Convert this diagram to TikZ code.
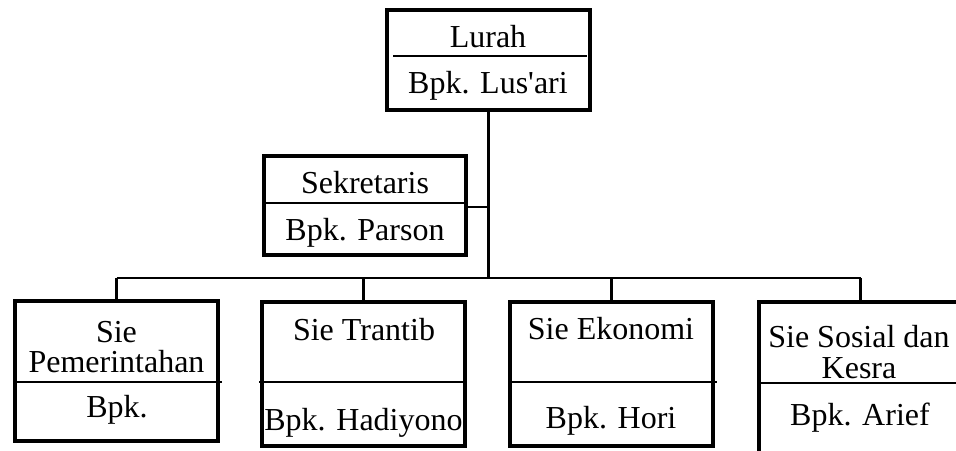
\documentclass[tikz,border=0pt]{standalone}
\usepackage{fontspec}
\setmainfont{Liberation Serif}
\begin{document}
\begin{tikzpicture}[x=1pt,y=-1pt,
  box/.style={draw, line width=4pt, inner sep=0pt, outer sep=0pt, minimum width=203pt},
  div/.style={line width=1.8pt},
  conn/.style={line width=2.5pt},
  lbl/.style={anchor=base, inner sep=0pt, font=\fontsize{32}{31}\selectfont}]
\clip (0,0) rectangle (956,450);
% boxes
\node[box, minimum height=100pt] (lurah) at (488.5,60) {};
\node[box, minimum width=202pt, minimum height=99pt] (sek) at (365,205.5) {};
\node[box, minimum height=140pt] (b1) at (116.5,371) {};
\node[box, minimum height=144pt] (b2) at (363.5,374) {};
\node[box, minimum height=144pt] (b3) at (611.5,374) {};
\node[box, minimum height=154pt] (b4) at (860.5,379) {};
% dividers
\draw[div] (393,56) -- (587,56);
\draw[div] (265,203) -- (465,203);
\draw[div] (13,382) -- (222,382);
\draw[div] (259,382) -- (467,382);
\draw[div] (508,382) -- (717,382);
\draw[div] (757,383) -- (962,383);
% texts
\node[lbl] (t1) at (488,47) {Lurah};
\node[lbl] (t2) at (488,93) {Bpk. Lus\textquotesingle ari};
\node[lbl] (t3) at (365,193) {Sekretaris};
\node[lbl] (t4) at (365,240) {Bpk. Parson};
\node[lbl] (t5) at (116.5,342) {Sie};
\node[lbl] (t6) at (116.5,372) {Pemerintahan};
\node[lbl] (t7) at (117,417) {Bpk.};
\node[lbl] (t8) at (364,340) {Sie Trantib};
\node[lbl] (t9) at (363.5,430) {Bpk. Hadiyono};
\node[lbl] (t10) at (611,339) {Sie Ekonomi};
\node[lbl] (t11) at (611,428) {Bpk. Hori};
\node[lbl] (t12) at (859,347) {Sie Sosial dan};
\node[lbl] (t13) at (859,378) {Kesra};
\node[lbl] (t14) at (860,425) {Bpk. Arief};
% connectors
\coordinate (hub) at (488.5,278);
\coordinate (sekj) at (488.5,207);
\draw[conn] (lurah.south) -- (hub);
\draw[conn] (sekj) -- (sekj -| sek.east);
\draw[conn] (b1.north |- hub) -- (b4.north |- hub);
\draw[conn] (b1.north |- hub) -- (b1.north);
\draw[conn] (b2.north |- hub) -- (b2.north);
\draw[conn] (b3.north |- hub) -- (b3.north);
\draw[conn] (b4.north |- hub) -- (b4.north);
\end{tikzpicture}
\end{document}
